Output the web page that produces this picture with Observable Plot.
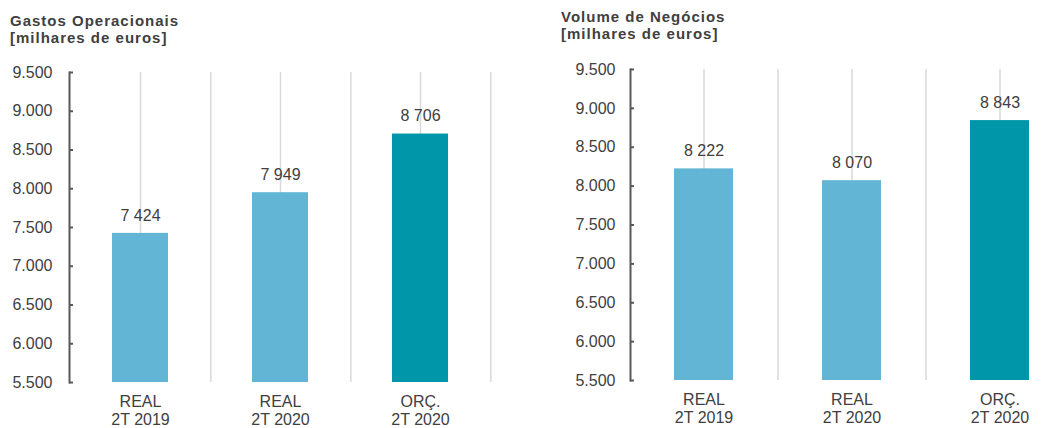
<!DOCTYPE html>
<html>
<head>
<meta charset="utf-8">
<script src="https://cdn.jsdelivr.net/npm/d3@7"></script>
<script src="https://cdn.jsdelivr.net/npm/@observablehq/plot@0.6"></script>
<style>
  html, body { margin: 0; padding: 0; background: #fff; overflow: hidden; }
  body { width: 1062px; height: 428px; position: relative; font-family: "Liberation Sans", Arial, sans-serif; }
  .title { position: absolute; font-weight: bold; font-size: 15px; line-height: 17px; color: #404040; letter-spacing: 1px; white-space: nowrap; }
  .chart { position: absolute; top: 50px; }
  .chart svg { overflow: visible; }
</style>
</head>
<body>
<div class="title" id="t1" style="left:10px; top:12px;"></div>
<div class="title" id="t2" style="left:561px; top:8px;"></div>
<div class="chart" id="c1" style="left:0px;"></div>
<div class="chart" id="c2" style="left:560px;"></div>
<script>
// ---- data ----
const categories = ["REAL\n2T 2019", "REAL\n2T 2020", "ORÇ.\n2T 2020"];
const kinds = ["real", "real", "orc"];
const gastos = [7424, 7949, 8706];
const volume = [8222, 8070, 8843];
const yTicks = [5500, 6000, 6500, 7000, 7500, 8000, 8500, 9000, 9500];
const yTickLabels = ["5.500", "6.000", "6.500", "7.000", "7.500", "8.000", "8.500", "9.000", "9.500"];
const titles = [["Gastos Operacionais", "[milhares de euros]"], ["Volume de Negócios", "[milhares de euros]"]];

document.getElementById("t1").innerHTML = titles[0].join("<br>");
document.getElementById("t2").innerHTML = titles[1].join("<br>");

const fmtVal = v => d3.format(",")(v).replace(/,/g, " ");
const tickLabel = v => yTickLabels[yTicks.indexOf(v)];

function makeChart(values, opt) {
  const rows = categories.map((c, i) => ({cat: c, kind: kinds[i], value: values[i]}));
  const x0 = opt.marginLeft, x1 = opt.rangeEnd;
  const step = (x1 - x0) / categories.length;
  return Plot.plot({
    width: opt.width,
    height: 378,
    marginLeft: opt.marginLeft,
    marginRight: opt.marginRight,
    marginTop: opt.marginTop,
    marginBottom: opt.marginBottom,
    style: {fontFamily: "Liberation Sans, Arial, sans-serif", fontSize: "16px", color: "#404040", background: "transparent"},
    x: {domain: categories, range: [x0, x1], paddingInner: 0.6, paddingOuter: 0.3, label: null},
    y: {domain: [5500, 9500], label: null},
    color: {domain: ["real", "orc"], range: ["#63b5d5", "#0096aa"]},
    marks: [
      Plot.ruleX(categories, {x: d => d, y1: 5500, y2: 9500, stroke: "#d9d9d9", strokeWidth: 1.5}),
      Plot.ruleX(categories, {x: d => d, y1: 5500, y2: 9500, dx: step / 2, stroke: "#d9d9d9", strokeWidth: 1.5}),
      Plot.barY(rows, {x: "cat", y1: 5500, y2: "value", fill: "kind"}),
      Plot.text(rows, {x: "cat", y: "value", text: d => fmtVal(d.value), dy: -18, fill: "#404040", fontSize: 16}),
      Plot.frame({anchor: "left", stroke: "#595959", strokeWidth: 2}),
      Plot.axisY({ticks: yTicks, tickFormat: tickLabel, tickSize: -4, tickPadding: opt.yPad, stroke: "#595959", strokeWidth: 2, fill: "#404040", fontSize: 16}),
      Plot.axisX({tickSize: 0, tickPadding: opt.xPad, lineHeight: 1.12, fill: "#404040", fontSize: 16})
    ]
  });
}

document.getElementById("c1").append(makeChart(gastos, {width: 530, marginLeft: 69, marginRight: 39, rangeEnd: 491, marginTop: 22, marginBottom: 46, yPad: 21, xPad: 12}));
document.getElementById("c2").append(makeChart(volume, {width: 502, marginLeft: 70, marginRight: 0, rangeEnd: 514, marginTop: 19, marginBottom: 48, yPad: 19, xPad: 12}));
</script>
</body>
</html>
